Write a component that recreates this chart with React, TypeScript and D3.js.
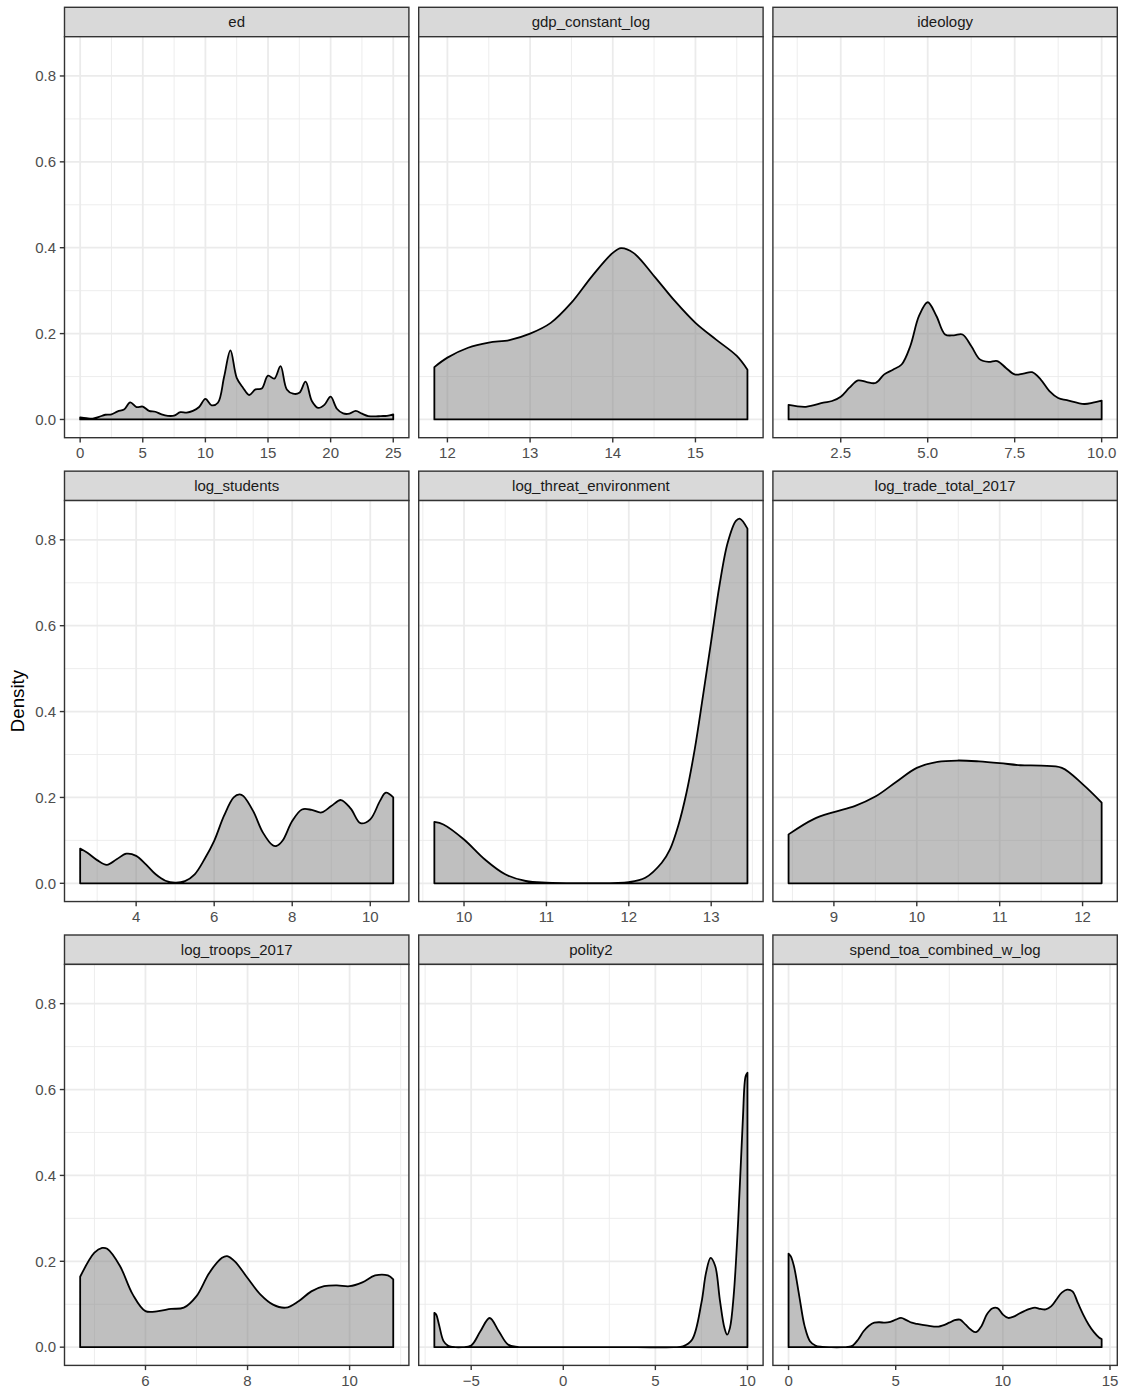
import * as d3 from "d3";

// facet names, in reading order
const panelNames = [
  "ed",
  "gdp_constant_log",
  "ideology",
  "log_students",
  "log_threat_environment",
  "log_trade_total_2017",
  "log_troops_2017",
  "polity2",
  "spend_toa_combined_w_log",
];

// density curves
const edX = [0, 0.5, 1, 1.5, 2, 2.5, 3, 3.5, 4, 4.5, 5, 5.5, 6, 6.5, 7, 7.5, 8, 8.5, 9, 9.5, 10, 10.5, 11, 11.5, 12, 12.5, 13, 13.5, 14, 14.5, 15, 15.5, 16, 16.5, 17, 17.5, 18, 18.5, 19, 19.5, 20, 20.5, 21, 21.5, 22, 22.5, 23, 23.5, 24, 24.5, 25];
const edDensity = [0.005, 0.003, 0.002, 0.006, 0.011, 0.012, 0.019, 0.023, 0.04, 0.029, 0.03, 0.02, 0.018, 0.012, 0.0085, 0.009, 0.017, 0.016, 0.02, 0.029, 0.048, 0.033, 0.039, 0.1, 0.161, 0.097, 0.074, 0.057, 0.07, 0.072, 0.102, 0.095, 0.124, 0.07, 0.06, 0.062, 0.088, 0.043, 0.027, 0.034, 0.053, 0.025, 0.014, 0.0135, 0.02, 0.0135, 0.008, 0.007, 0.008, 0.0085, 0.012];

const gdpX = [11.842, 12, 12.25, 12.5, 12.75, 13, 13.25, 13.5, 13.75, 14, 14.1, 14.25, 14.5, 14.75, 15, 15.25, 15.5, 15.629];
const gdpDensity = [0.122, 0.144, 0.167, 0.179, 0.185, 0.2, 0.225, 0.272, 0.334, 0.388, 0.399, 0.388, 0.334, 0.276, 0.225, 0.186, 0.148, 0.116];

const ideologyX = [1, 1.5, 2, 2.25, 2.5, 2.75, 3, 3.25, 3.5, 3.75, 4, 4.25, 4.5, 4.75, 5, 5.25, 5.5, 5.75, 6, 6.25, 6.5, 6.75, 7, 7.25, 7.5, 7.75, 8, 8.25, 8.5, 8.75, 9, 9.5, 9.75, 10];
const ideologyDensity = [0.034, 0.0295, 0.039, 0.043, 0.053, 0.074, 0.091, 0.087, 0.085, 0.105, 0.116, 0.128, 0.171, 0.241, 0.273, 0.241, 0.198, 0.196, 0.198, 0.171, 0.14, 0.134, 0.136, 0.12, 0.105, 0.107, 0.11, 0.093, 0.066, 0.05, 0.045, 0.036, 0.039, 0.044];

const studentsX = [2.565, 2.75, 3, 3.25, 3.5, 3.75, 4, 4.25, 4.5, 4.75, 5, 5.25, 5.5, 5.75, 6, 6.25, 6.5, 6.65, 6.75, 7, 7.25, 7.5, 7.6, 7.75, 8, 8.25, 8.5, 8.75, 9, 9.25, 9.5, 9.75, 10, 10.25, 10.4, 10.589];
const studentsDensity = [0.081, 0.071, 0.054, 0.043, 0.056, 0.069, 0.064, 0.044, 0.021, 0.006, 0.0015, 0.005, 0.021, 0.056, 0.099, 0.157, 0.2, 0.207, 0.203, 0.168, 0.118, 0.0885, 0.087, 0.099, 0.145, 0.172, 0.171, 0.165, 0.18, 0.194, 0.174, 0.14, 0.149, 0.192, 0.211, 0.2];

const threatX = [9.64, 9.75, 10, 10.25, 10.5, 10.75, 11, 11.5, 12, 12.2, 12.4, 12.5, 12.6, 12.7, 12.8, 12.9, 13, 13.1, 13.2, 13.3, 13.35, 13.44];
const threatDensity = [0.143, 0.137, 0.102, 0.056, 0.021, 0.0054, 0.0015, 0.0005, 0.003, 0.013, 0.048, 0.079, 0.134, 0.211, 0.312, 0.436, 0.564, 0.693, 0.793, 0.844, 0.849, 0.826];

const tradeX = [8.453, 8.75, 9, 9.25, 9.5, 9.75, 10, 10.25, 10.5, 10.75, 11, 11.25, 11.5, 11.75, 12, 12.23];
const tradeDensity = [0.114, 0.149, 0.166, 0.18, 0.202, 0.236, 0.269, 0.283, 0.286, 0.284, 0.28, 0.275, 0.274, 0.269, 0.231, 0.188];

const troopsX = [4.72, 5, 5.15, 5.25, 5.5, 5.75, 6, 6.25, 6.5, 6.75, 7, 7.25, 7.5, 7.6, 7.75, 8, 8.25, 8.5, 8.75, 9, 9.25, 9.5, 9.75, 10, 10.25, 10.5, 10.75, 10.855];
const troopsDensity = [0.164, 0.22, 0.231, 0.229, 0.189, 0.123, 0.084, 0.084, 0.089, 0.092, 0.119, 0.173, 0.208, 0.212, 0.2, 0.161, 0.123, 0.099, 0.092, 0.107, 0.13, 0.142, 0.144, 0.142, 0.151, 0.167, 0.167, 0.158];

const polityX = [-7, -6.9, -6.75, -6.5, -6.25, -6, -5.5, -5, -4.5, -4, -3.5, -3, -2.5, -2, 0, 2, 4, 6, 6.5, 7, 7.5, 7.75, 8, 8.25, 8.5, 8.75, 8.9, 9.05, 9.25, 9.5, 9.75, 9.9, 10];
const polityDensity = [0.08, 0.076, 0.053, 0.014, 0.003, 0.0005, 0, 0.004, 0.037, 0.068, 0.037, 0.006, 0.0005, 0, 0, 0, 0, 0, 0.002, 0.018, 0.103, 0.173, 0.208, 0.189, 0.111, 0.045, 0.029, 0.045, 0.119, 0.297, 0.53, 0.631, 0.639];

const spendX = [0, 0.1, 0.25, 0.5, 0.75, 1, 1.25, 1.5, 2, 2.5, 2.75, 3, 3.25, 3.5, 3.75, 4, 4.25, 4.5, 4.75, 5, 5.25, 5.5, 5.75, 6, 6.5, 7, 7.5, 7.75, 8, 8.25, 8.5, 8.75, 9, 9.25, 9.5, 9.75, 10, 10.25, 10.5, 10.75, 11, 11.25, 11.5, 11.75, 12, 12.25, 12.5, 12.75, 13, 13.25, 13.5, 13.75, 14, 14.25, 14.5, 14.61];
const spendDensity = [0.218, 0.212, 0.189, 0.119, 0.049, 0.014, 0.004, 0.001, 0, 0, 0.0005, 0.004, 0.018, 0.037, 0.05, 0.057, 0.058, 0.057, 0.059, 0.064, 0.068, 0.063, 0.057, 0.054, 0.05, 0.048, 0.057, 0.063, 0.064, 0.053, 0.041, 0.035, 0.049, 0.076, 0.09, 0.091, 0.076, 0.068, 0.071, 0.078, 0.084, 0.089, 0.092, 0.089, 0.088, 0.095, 0.111, 0.127, 0.134, 0.13, 0.103, 0.076, 0.053, 0.035, 0.022, 0.019];

// x axis breaks per facet
const edTicks = [0, 5, 10, 15, 20, 25];
const gdpTicks = [12, 13, 14, 15];
const ideologyTicks = [2.5, 5, 7.5, 10];
const studentsTicks = [4, 6, 8, 10];
const threatTicks = [10, 11, 12, 13];
const tradeTicks = [9, 10, 11, 12];
const troopsTicks = [6, 8, 10];
const polityTicks = [-5, 0, 5, 10];
const spendTicks = [0, 5, 10, 15];

const yTicks = [0, 0.2, 0.4, 0.6, 0.8];
const yTitle = "Density";

const panels = [
  { name: panelNames[0], x: edX, y: edDensity, ticks: edTicks, fmt: d3.format("d") },
  { name: panelNames[1], x: gdpX, y: gdpDensity, ticks: gdpTicks, fmt: d3.format("d") },
  { name: panelNames[2], x: ideologyX, y: ideologyDensity, ticks: ideologyTicks, fmt: d3.format(".1f") },
  { name: panelNames[3], x: studentsX, y: studentsDensity, ticks: studentsTicks, fmt: d3.format("d") },
  { name: panelNames[4], x: threatX, y: threatDensity, ticks: threatTicks, fmt: d3.format("d") },
  { name: panelNames[5], x: tradeX, y: tradeDensity, ticks: tradeTicks, fmt: d3.format("d") },
  { name: panelNames[6], x: troopsX, y: troopsDensity, ticks: troopsTicks, fmt: d3.format("d") },
  { name: panelNames[7], x: polityX, y: polityDensity, ticks: polityTicks, fmt: d3.format("d") },
  { name: panelNames[8], x: spendX, y: spendDensity, ticks: spendTicks, fmt: d3.format("d") },
];

const W = 1122;
const H = 1393;
const left = 64.5;
const top = 7.3;
const stripH = 29.4;
const panelW = 344.4;
const panelH = 401;
const colGap = 9.8;
const rowStep = 463.85;
const font = "'Liberation Sans', Arial, Helvetica, sans-serif";

function expand(lo: number, hi: number): [number, number] {
  const pad = (hi - lo) * 0.05;
  return [lo - pad, hi + pad];
}

// ggplot style minor breaks: midpoints, also one step beyond each end
function minorBreaks(major: number[], domain: [number, number]) {
  const step = major[1] - major[0];
  const out: number[] = [];
  for (let i = -1; i < major.length; i++) {
    const v = major[0] + step * i + step / 2;
    if (v > domain[0] && v < domain[1]) out.push(v);
  }
  return out;
}

export default function App() {
  const yMax = d3.max(panels, (p) => d3.max(p.y)) || 1;
  const yDomain = expand(0, yMax);
  const y = d3.scaleLinear().domain(yDomain).range([panelH, 0]);
  const yMinor = minorBreaks(yTicks, yDomain);

  return (
    <svg
      width={W}
      height={H}
      style={{ position: "absolute", left: 0, top: 0, background: "#fff" }}
      fontFamily={font}
    >
      <rect width={W} height={H} fill="#fff" />
      {panels.map((p, i) => {
        const col = i % 3;
        const row = Math.floor(i / 3);
        const px = left + col * (panelW + colGap);
        const sy = top + row * rowStep;
        const py = sy + stripH;
        const xDomain = expand(d3.min(p.x) as number, d3.max(p.x) as number);
        const x = d3.scaleLinear().domain(xDomain).range([0, panelW]);
        const xMinor = minorBreaks(p.ticks, xDomain);
        const pts = p.x.map((v, k) => [v, p.y[k]] as [number, number]);
        const area = d3
          .area<[number, number]>()
          .x((d) => x(d[0]))
          .y0(y(0))
          .y1((d) => Math.min(y(d[1]), y(0)))
          .curve(d3.curveCatmullRom.alpha(0.5));

        return (
          <g key={p.name}>
            {/* strip */}
            <rect x={px} y={sy} width={panelW} height={stripH} fill="#D9D9D9" stroke="#333333" strokeWidth={1.4} />
            <text x={px + panelW / 2} y={sy + stripH / 2} dy="0.35em" textAnchor="middle" fontSize={15} fill="#1A1A1A">
              {p.name}
            </text>

            <g transform={`translate(${px},${py})`}>
              <rect width={panelW} height={panelH} fill="#fff" />
              {yMinor.map((t) => (
                <line key={`ym${t}`} x1={0} x2={panelW} y1={y(t)} y2={y(t)} stroke="#EBEBEB" strokeWidth={0.9} />
              ))}
              {xMinor.map((t) => (
                <line key={`xm${t}`} x1={x(t)} x2={x(t)} y1={0} y2={panelH} stroke="#EBEBEB" strokeWidth={0.9} />
              ))}
              {yTicks.map((t) => (
                <line key={`yg${t}`} x1={0} x2={panelW} y1={y(t)} y2={y(t)} stroke="#EBEBEB" strokeWidth={1.8} />
              ))}
              {p.ticks.map((t) => (
                <line key={`xg${t}`} x1={x(t)} x2={x(t)} y1={0} y2={panelH} stroke="#EBEBEB" strokeWidth={1.8} />
              ))}

              <path
                d={area(pts) || ""}
                fill="#7F7F7F"
                fillOpacity={0.5}
                stroke="#000"
                strokeWidth={1.8}
                strokeLinejoin="round"
              />

              <rect width={panelW} height={panelH} fill="none" stroke="#333333" strokeWidth={1.4} />

              {/* x axis */}
              {p.ticks.map((t) => (
                <g key={`xt${t}`} transform={`translate(${x(t)},${panelH})`}>
                  <line y1={0} y2={4.7} stroke="#333333" strokeWidth={1.4} />
                  <text y={20.8} textAnchor="middle" fontSize={15} fill="#4D4D4D">
                    {p.fmt(t)}
                  </text>
                </g>
              ))}

              {/* y axis on the first column only */}
              {col === 0 &&
                yTicks.map((t) => (
                  <g key={`yt${t}`} transform={`translate(0,${y(t)})`}>
                    <line x1={-4.7} x2={0} stroke="#333333" strokeWidth={1.4} />
                    <text x={-8.4} dy="0.35em" textAnchor="end" fontSize={15} fill="#4D4D4D">
                      {d3.format(".1f")(t)}
                    </text>
                  </g>
                ))}
            </g>
          </g>
        );
      })}

      <text
        transform={`translate(24,${top + stripH + (2 * rowStep + panelH) / 2}) rotate(-90)`}
        textAnchor="middle"
        fontSize={18.7}
        fill="#000"
      >
        {yTitle}
      </text>
    </svg>
  );
}
